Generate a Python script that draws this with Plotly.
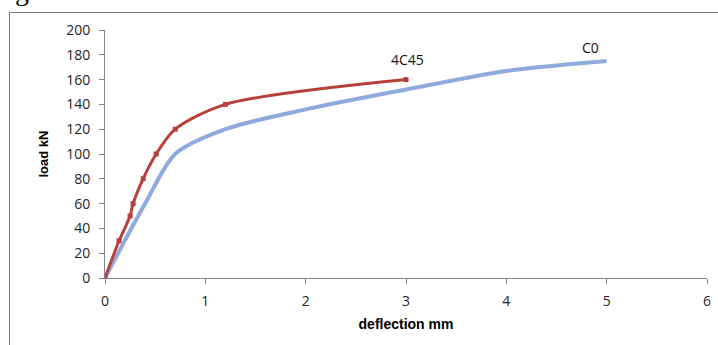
import plotly.graph_objects as go

# Data
c45_x = [0, 0.14, 0.25, 0.28, 0.38, 0.51, 0.70, 1.2, 3.0]
c45_y = [0, 30, 50, 60, 80, 100, 120, 140, 160]

c0_x = [0, 0.4, 0.7, 1.2, 2.0, 3.0, 4.0, 5.0]
c0_y = [0, 60, 100, 120, 136, 152, 167, 175]

x_ticks = [0, 1, 2, 3, 4, 5, 6]
y_ticks = list(range(0, 201, 20))

W, H = 718, 345
L, R, T, B = 105, 11, 30, 67
pw = W - L - R
ph = H - T - B

def px_x(p):
    return (p - L) / pw

def px_y(p):
    return (H - B - p) / ph

fig = go.Figure()
fig.add_trace(go.Scatter(
    x=c0_x, y=c0_y, mode="lines", name="C0",
    line=dict(color="#8FAADC", width=4, shape="spline", smoothing=0.8),
))
fig.add_trace(go.Scatter(
    x=c45_x, y=c45_y, mode="lines+markers", name="4C45",
    line=dict(color="#B7403D", width=3, shape="spline", smoothing=0.8),
    marker=dict(symbol="square", size=5, color="#B7403D"),
))

axis_common = dict(
    showgrid=False, zeroline=False, showline=True, linecolor="#868686", linewidth=1,
    ticks="outside", ticklen=5, tickcolor="#868686", tickwidth=1, automargin=False,
    tickfont=dict(family="Open Sans", size=14, color="#262626"),
)

fig.update_xaxes(range=[0, 6], tickvals=x_ticks, ticklabelstandoff=5,
                 title=dict(text="<b>deflection mm</b>", font=dict(family="Liberation Sans Narrow, Liberation Sans", size=14, color="#000"), standoff=10),
                 **axis_common)
fig.update_yaxes(range=[0, 200], tickvals=y_ticks, ticklabelstandoff=6,
                 title=dict(text="<b>load kN</b>", font=dict(family="Liberation Sans Narrow, Liberation Sans", size=13, color="#000"), standoff=14),
                 **axis_common)

fig.add_annotation(x=3.01, y=176, text="4C45", showarrow=False,
                   font=dict(family="Open Sans", size=14, color="#111"))
fig.add_annotation(x=4.84, y=186, text="C0", showarrow=False,
                   font=dict(family="Open Sans", size=14, color="#111"))

# partial caption glyph at top-left
fig.add_annotation(xref="paper", yref="paper", x=px_x(13), y=px_y(8), yanchor="bottom",
                   text="g", showarrow=False,
                   font=dict(family="Liberation Serif", size=28, color="#000"))

# frame
fig.add_shape(type="rect", xref="paper", yref="paper",
              x0=px_x(9.5), y0=px_y(400), x1=px_x(760), y1=px_y(12.5),
              line=dict(color="#7a7a7a", width=1), layer="below")

fig.update_layout(
    width=W, height=H, margin=dict(l=L, r=R, t=T, b=B, autoexpand=False),
    plot_bgcolor="white", paper_bgcolor="white", showlegend=False,
)

fig.write_html("out.html", config={"displayModeBar": False},
               post_script="document.body.style.margin='0';document.body.style.overflow='hidden';")
